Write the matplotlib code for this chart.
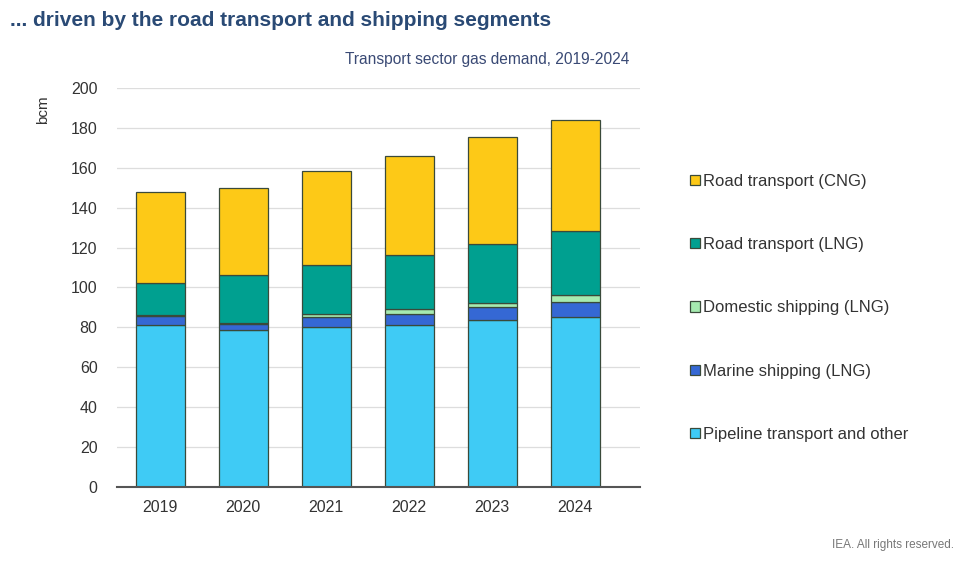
import matplotlib
matplotlib.use("Agg")
import matplotlib.pyplot as plt
import numpy as np

years = ["2019", "2020", "2021", "2022", "2023", "2024"]
pipeline = [81.2, 78.7, 80.0, 81.2, 83.7, 85.0]
marine = [4.5, 3.0, 5.0, 5.4, 6.3, 7.9]
domestic = [0.5, 0.7, 1.5, 2.4, 2.0, 3.3]
road_lng = [16.0, 24.0, 25.0, 27.3, 30.0, 32.0]
road_cng = [45.5, 43.7, 47.0, 49.7, 53.6, 55.7]
series_names = ["Pipeline transport and other", "Marine shipping (LNG)",
                "Domestic shipping (LNG)", "Road transport (LNG)", "Road transport (CNG)"]
yticks = [0, 20, 40, 60, 80, 100, 120, 140, 160, 180, 200]

plt.rcParams["font.family"] = ["Liberation Sans", "DejaVu Sans"]

colors = ["#3fcbf5", "#3568d4", "#a6ebb0", "#00a090", "#fdc917"]
series = [pipeline, marine, domestic, road_lng, road_cng]

fig = plt.figure(figsize=(9.61, 5.71), dpi=100)
ax = fig.add_axes([0.1217, 0.147, 0.5443, 0.699])
x = np.arange(len(years))
bottom = np.zeros(len(years))
handles = []
for vals, c, name in zip(series, colors, series_names):
    b = ax.bar(x, vals, 0.59, bottom=bottom, color=c, edgecolor="#3a4a3a",
               linewidth=0.9, label=name, zorder=3)
    handles.append(b)
    bottom += np.array(vals)

ax.set_xlim(-0.52, 5.78)
ax.set_ylim(0, 200)
ax.set_yticks(yticks)
ax.set_xticks(x)
ax.set_xticklabels(years)
ax.tick_params(axis="both", length=0, labelsize=11.5, colors="#333333")
ax.tick_params(axis="y", pad=14)
ax.tick_params(axis="x", pad=9)
ax.grid(axis="y", color="#dddddd", linewidth=0.9, zorder=0)
for s in ["top", "right", "left"]:
    ax.spines[s].set_visible(False)
ax.spines["bottom"].set_color("#555555")
ax.spines["bottom"].set_linewidth(1.5)
ax.spines["bottom"].set_zorder(4)
ax.set_ylabel("bcm", fontsize=11, color="#333333")
ax.yaxis.set_label_coords(-0.128, 0.945)

leg = fig.legend(handles[::-1], series_names[::-1], loc="upper left",
                 bbox_to_anchor=(0.702, 0.722), frameon=False, fontsize=12,
                 handlelength=0.6, handleheight=0.6, handletextpad=0.2,
                 labelspacing=2.9, labelcolor="#333333")

fig.text(0.01, 0.964, "... driven by the road transport and shipping segments",
         fontsize=15, fontweight="bold", color="#2a4a75", va="center")
fig.text(0.655, 0.896, "Transport sector gas demand, 2019-2024", fontsize=11.2,
         color="#3a4a75", ha="right", va="center")
fig.text(0.993, 0.046, "IEA. All rights reserved.", fontsize=8.5, color="#777777",
         ha="right", va="center")

fig.savefig("out.png", dpi=100)
